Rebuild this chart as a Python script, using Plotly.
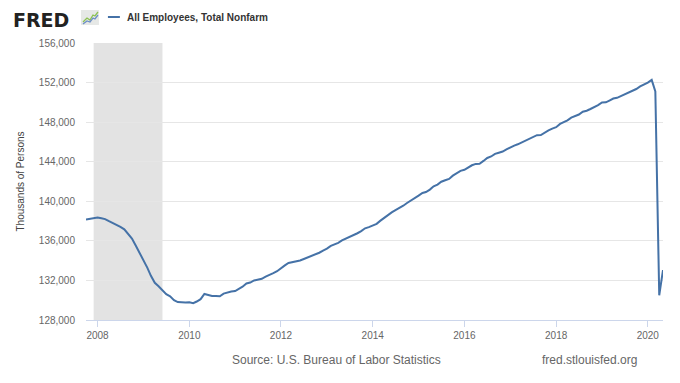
import pandas as pd
import plotly.graph_objects as go

# Monthly values, thousands of persons, Oct 2007 - May 2020
start_month = "2007-10-01"
payems = [
    # 2007 Oct-Dec
    138160, 138240, 138330,
    # 2008
    138365, 138279, 138199, 137985, 137803, 137631, 137421, 137162, 136710, 136236, 135507, 134802,
    # 2009
    134012, 133269, 132466, 131762, 131411, 130944, 130610, 130400, 130008, 129815, 129759, 129780,
    # 2010
    129798, 129705, 129870, 130110, 130630, 130500, 130430, 130420, 130400, 130670, 130800, 130880,
    # 2011
    130930, 131130, 131370, 131690, 131790, 132000, 132060, 132160, 132390, 132600, 132740, 132930,
    # 2012
    133270, 133520, 133760, 133840, 133940, 134020, 134170, 134320, 134500, 134640, 134800, 135020,
    # 2013
    135210, 135490, 135610, 135800, 136040, 136220, 136340, 136580, 136770, 136990, 137270, 137390,
    # 2014
    137560, 137720, 138020, 138330, 138570, 138880, 139110, 139300, 139550, 139830, 140110, 140370,
    # 2015
    140570, 140840, 140930, 141180, 141510, 141690, 141980, 142130, 142260, 142590, 142810, 143070,
    # 2016
    143180, 143410, 143640, 143780, 143800, 144080, 144380, 144530, 144790, 144910, 145030, 145250,
    # 2017
    145480, 145630, 145760, 145960, 146100, 146330, 146510, 146680, 146700, 146950, 147160, 147340,
    # 2018
    147490, 147820, 147990, 148180, 148450, 148640, 148770, 149050, 149150, 149330, 149500, 149720,
    # 2019
    149990, 150000, 150180, 150390, 150460, 150640, 150800, 151000, 151190, 151350, 151610, 151790,
    # 2020 Jan-May
    152000, 152270, 151100, 130500, 133050,
]
dates = pd.date_range(start_month, periods=len(payems), freq="MS")

recession_start = "2007-12-01"
recession_end = "2009-06-01"

y_ticks = [128000, 132000, 136000, 140000, 144000, 148000, 152000, 156000]
x_tick_years = ["2008", "2010", "2012", "2014", "2016", "2018", "2020"]

series_name = "All Employees, Total Nonfarm"
y_title = "Thousands of Persons"
source_text = "Source: U.S. Bureau of Labor Statistics"
site_text = "fred.stlouisfed.org"

LINE = "#4572a7"
GRAY = "#666666"
FONT = "Liberation Sans, Arial, sans-serif"

# Page offset: the plot div sits inside the body's default 8px margin
OFF = 8
W, H = 680 - OFF, 383 - OFF
PL, PT, PR, PB = 84, 43, 663, 320  # plot area on the page (px)


def px(x, y):
    """page pixel -> paper coordinates"""
    return (x - PL) / (PR - PL), 1 - (y - PT) / (PB - PT)


fig = go.Figure()
fig.add_trace(go.Scatter(
    x=dates, y=payems, mode="lines", name=series_name,
    line=dict(color=LINE, width=2), showlegend=False,
    hovertemplate="%{x|%b %Y}: %{y:,}<extra></extra>",
))

fig.add_shape(type="rect", xref="x", yref="paper",
              x0=recession_start, x1=recession_end, y0=0, y1=1,
              fillcolor="#e3e3e3", line=dict(width=0), layer="below")

# ---- FRED logo (decorative) ----
x0, y0 = px(10, 20)
fig.add_annotation(xref="paper", yref="paper", x=x0, y=y0,
                   text="<b>FRED</b>", showarrow=False,
                   xanchor="left", yanchor="middle", borderpad=0,
                   font=dict(family="DejaVu Sans, sans-serif", size=19, color="#222222"))
a, b = px(79, 10)
c, d = px(97, 25)
fig.add_shape(type="rect", xref="paper", yref="paper", x0=a, y0=d, x1=c, y1=b,
              fillcolor="#e6e8e6", line=dict(width=0), layer="above")


def path(points):
    pts = [px(x, y) for x, y in points]
    return "M " + " L ".join(f"{p[0]},{p[1]}" for p in pts)


fig.add_shape(type="path", xref="paper", yref="paper",
              path=path([(81, 22), (85, 18), (88, 20), (91, 15), (93, 16), (96, 12)]),
              line=dict(color="#8cc152", width=1.3), layer="above")
fig.add_shape(type="path", xref="paper", yref="paper",
              path=path([(81, 24), (85, 21), (88, 22), (91, 18), (93, 19), (96, 15)]),
              line=dict(color="#6d8fc7", width=1.3), layer="above")

# ---- legend ----
lx0, ly = px(106, 17)
lx1, _ = px(118, 17)
fig.add_shape(type="line", xref="paper", yref="paper",
              x0=lx0, x1=lx1, y0=ly, y1=ly, line=dict(color=LINE, width=2))
tx, _ = px(123, 17)
fig.add_annotation(xref="paper", yref="paper", x=tx, y=ly,
                   text="<b>" + series_name + "</b>", showarrow=False,
                   xanchor="left", yanchor="middle",
                   font=dict(family=FONT, size=10, color="#333333"))

# ---- footer ----
sx, sy = px(335, 360)
fig.add_annotation(xref="paper", yref="paper", x=sx, y=sy,
                   text=source_text, showarrow=False,
                   xanchor="center", yanchor="middle",
                   font=dict(family=FONT, size=12, color=GRAY))
fx, _ = px(589, 360)
fig.add_annotation(xref="paper", yref="paper", x=fx, y=sy,
                   text=site_text, showarrow=False,
                   xanchor="center", yanchor="middle",
                   font=dict(family=FONT, size=12, color=GRAY))

fig.update_layout(
    width=W, height=H,
    margin=dict(l=PL - OFF, r=W - (PR - OFF), t=PT - OFF, b=H - (PB - OFF)),
    paper_bgcolor="white", plot_bgcolor="white",
    font=dict(family=FONT, size=10, color=GRAY),
)
fig.update_xaxes(
    range=[dates[0], dates[-1]],
    tickvals=[pd.Timestamp(y + "-01-01") for y in x_tick_years],
    ticktext=x_tick_years,
    showgrid=False, showline=True, linecolor="#ccd6eb", linewidth=1,
    ticks="outside", ticklen=6, tickcolor="#ccd6eb",
    tickfont=dict(family=FONT, size=10, color=GRAY),
    zeroline=False,
)
fig.update_yaxes(
    range=[128000, 156000], tickvals=y_ticks,
    tickformat=",d", showgrid=True, gridcolor="#e6e6e6", gridwidth=1,
    zeroline=False, showline=False, ticks="",
    tickfont=dict(family=FONT, size=10, color=GRAY),
    ticklabelstandoff=10,
    title=dict(text=y_title, font=dict(family=FONT, size=10, color="#444444"), standoff=12),
)

fig.write_html("out.html")
